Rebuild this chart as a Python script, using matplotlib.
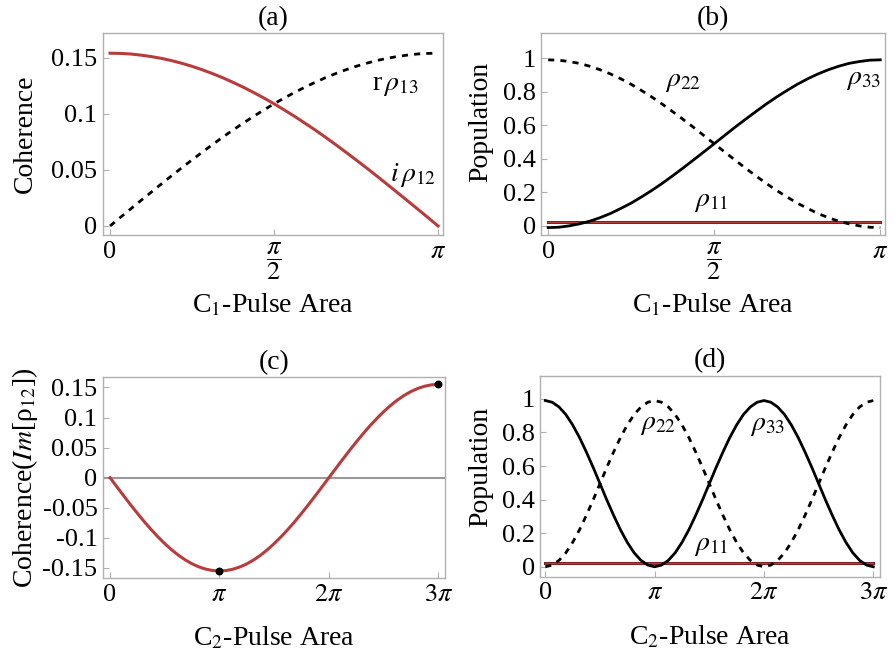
import numpy as np
import matplotlib
matplotlib.use('Agg')
from matplotlib import pyplot as plt

plt.rcParams['font.family'] = 'serif'
plt.rcParams['font.serif'] = ['Liberation Serif', 'Nimbus Roman', 'Times New Roman', 'DejaVu Serif']
plt.rcParams['mathtext.fontset'] = 'stix'

pi = np.pi

# panel (a) / (b): C1 pulse area 0..pi, step pi/32
x_c1 = np.linspace(0, 1, 33) * pi
im_rho12_a = [0.1540, 0.1538, 0.1533, 0.1523, 0.1510, 0.1494, 0.1474, 0.1450,
              0.1423, 0.1392, 0.1358, 0.1321, 0.1280, 0.1237, 0.1190, 0.1141,
              0.1089, 0.1034, 0.0977, 0.0917, 0.0856, 0.0792, 0.0726, 0.0658,
              0.0589, 0.0519, 0.0447, 0.0374, 0.0300, 0.0226, 0.0151, 0.0076, 0.0]
re_rho13_a = [0.0, 0.0076, 0.0151, 0.0226, 0.0300, 0.0374, 0.0447, 0.0519,
              0.0589, 0.0658, 0.0726, 0.0792, 0.0856, 0.0917, 0.0977, 0.1034,
              0.1089, 0.1141, 0.1190, 0.1237, 0.1280, 0.1321, 0.1358, 0.1392,
              0.1423, 0.1450, 0.1474, 0.1494, 0.1510, 0.1523, 0.1533, 0.1538, 0.1540]

rho22_b = [0.990, 0.988, 0.980, 0.969, 0.952, 0.931, 0.906, 0.877, 0.844,
           0.807, 0.768, 0.726, 0.681, 0.635, 0.588, 0.539, 0.490, 0.441,
           0.393, 0.345, 0.299, 0.254, 0.212, 0.173, 0.136, 0.104, 0.074,
           0.049, 0.028, 0.012, 0.000, -0.008, -0.010]
rho33_b = [-0.010, -0.008, 0.000, 0.012, 0.028, 0.049, 0.074, 0.104, 0.136,
           0.173, 0.212, 0.254, 0.299, 0.345, 0.393, 0.441, 0.490, 0.539,
           0.588, 0.635, 0.681, 0.726, 0.768, 0.807, 0.844, 0.877, 0.906,
           0.931, 0.952, 0.969, 0.980, 0.988, 0.990]
rho11_b = [0.022] * 33

# panel (c) / (d): C2 pulse area 0..3pi, step pi/16
x_c2 = np.linspace(0, 3, 49) * pi
im_rho12_c = [0, -0.0152, -0.0302, -0.0450, -0.0593, -0.0731, -0.0861, -0.0983,
              -0.1096, -0.1198, -0.1289, -0.1367, -0.1432, -0.1483, -0.1520,
              -0.1543, -0.1550, -0.1543, -0.1520, -0.1483, -0.1432, -0.1367,
              -0.1289, -0.1198, -0.1096, -0.0983, -0.0861, -0.0731, -0.0593,
              -0.0450, -0.0302, -0.0152, 0, 0.0152, 0.0302, 0.0450, 0.0593,
              0.0731, 0.0861, 0.0983, 0.1096, 0.1198, 0.1289, 0.1367, 0.1432,
              0.1483, 0.1520, 0.1543, 0.1550]
dots_x_c = [pi, 3 * pi]
dots_y_c = [-0.155, 0.155]

rho33_d = [0.990, 0.980, 0.952, 0.907, 0.845, 0.770, 0.684, 0.592, 0.495,
           0.398, 0.306, 0.220, 0.145, 0.083, 0.038, 0.010, 0.000,
           0.010, 0.038, 0.083, 0.145, 0.220, 0.306, 0.398, 0.495, 0.592,
           0.684, 0.770, 0.845, 0.907, 0.952, 0.980, 0.990,
           0.980, 0.952, 0.907, 0.845, 0.770, 0.684, 0.592, 0.495, 0.398,
           0.306, 0.220, 0.145, 0.083, 0.038, 0.010, 0.000]
rho22_d = [0.000, 0.010, 0.038, 0.083, 0.145, 0.220, 0.306, 0.398, 0.495,
           0.592, 0.684, 0.770, 0.845, 0.907, 0.952, 0.980, 0.990,
           0.980, 0.952, 0.907, 0.845, 0.770, 0.684, 0.592, 0.495, 0.398,
           0.306, 0.220, 0.145, 0.083, 0.038, 0.010, 0.000,
           0.010, 0.038, 0.083, 0.145, 0.220, 0.306, 0.398, 0.495, 0.592,
           0.684, 0.770, 0.845, 0.907, 0.952, 0.980, 0.990]
rho11_d = [0.025] * 49

RED = '#b83c3c'
DARKRED = '#6e1c1c'
FRAME = '#b0b0b0'
TICK_FS = 19
LAB_FS = 20

fig = plt.figure(figsize=(8.96, 6.6), dpi=100)
ax_a = fig.add_axes([0.115, 0.644, 0.3795, 0.306])
ax_b = fig.add_axes([0.604, 0.644, 0.384, 0.306])
ax_c = fig.add_axes([0.115, 0.124, 0.382, 0.3045])
ax_d = fig.add_axes([0.603, 0.126, 0.3795, 0.3045])


def style(ax):
    for s in ax.spines.values():
        s.set_color(FRAME)
        s.set_linewidth(1.0)
    ax.tick_params(direction='in', length=4, width=0.8, color=FRAME,
                   labelsize=TICK_FS, pad=4)


# (a)
ax_a.plot(x_c1, re_rho13_a, color='black', lw=2, ls=(0, (2.2, 2.2)))
ax_a.plot(x_c1, im_rho12_a, color=RED, lw=2.2)
ax_a.set_xlim(-0.0213 * pi, 1.0152 * pi)
ax_a.set_ylim(-0.008, 0.172)
ax_a.set_xticks([0, pi / 2, pi], ['0', r'$\dfrac{\pi}{2}$', r'$\pi$'])
ax_a.set_yticks([0, 0.05, 0.1, 0.15], ['0', '0.05', '0.1', '0.15'])
ax_a.text(0.869 * pi, 0.125, r'r$\,\rho_{13}$', fontsize=LAB_FS, ha='center', va='center')
ax_a.text(0.924 * pi, 0.0455, r'$i\,\rho_{12}$', fontsize=LAB_FS, ha='center', va='center')
ax_a.set_title('(a)', fontsize=LAB_FS, pad=6)
ax_a.text(-0.229, 0.5, 'Coherence', transform=ax_a.transAxes, rotation=90,
          fontsize=LAB_FS, ha='center', va='center')
ax_a.text(0.5, -0.347, r'C$_1$-Pulse Area', transform=ax_a.transAxes,
          fontsize=LAB_FS, ha='center', va='center')
style(ax_a)

# (b)
ax_b.plot(x_c1, rho11_b, color=DARKRED, lw=2.2)
ax_b.plot(x_c1, rho11_b, color=RED, lw=1.0)
ax_b.plot(x_c1, rho22_b, color='black', lw=2, ls=(0, (2.2, 2.2)))
ax_b.plot(x_c1, rho33_b, color='black', lw=2)
ax_b.set_xlim(-0.021 * pi, 1.015 * pi)
ax_b.set_ylim(-0.054, 1.15)
ax_b.set_xticks([0, pi / 2, pi], ['0', r'$\dfrac{\pi}{2}$', r'$\pi$'])
ax_b.set_yticks([0, 0.2, 0.4, 0.6, 0.8, 1], ['0', '0.2', '0.4', '0.6', '0.8', '1'])
ax_b.text(0.407 * pi, 0.863, r'$\rho_{22}$', fontsize=LAB_FS, ha='center', va='center')
ax_b.text(0.949 * pi, 0.875, r'$\rho_{33}$', fontsize=LAB_FS, ha='center', va='center')
ax_b.text(0.491 * pi, 0.143, r'$\rho_{11}$', fontsize=LAB_FS, ha='center', va='center')
ax_b.set_title('(b)', fontsize=LAB_FS, pad=6)
ax_b.text(-0.177, 0.56, 'Population', transform=ax_b.transAxes, rotation=90,
          fontsize=LAB_FS, ha='center', va='center')
ax_b.text(0.5, -0.347, r'C$_1$-Pulse Area', transform=ax_b.transAxes,
          fontsize=LAB_FS, ha='center', va='center')
style(ax_b)

# (c)
ax_c.axhline(0, color='#999999', lw=1.5)
ax_c.plot(x_c2, im_rho12_c, color=RED, lw=2.2)
ax_c.scatter(dots_x_c, dots_y_c, color='black', s=22, zorder=5)
ax_c.set_xlim(-0.064 * pi, 3.064 * pi)
ax_c.set_ylim(-0.167, 0.167)
ax_c.set_xticks([0, pi, 2 * pi, 3 * pi], ['0', r'$\pi$', r'$2\pi$', r'$3\pi$'])
ax_c.set_yticks([-0.15, -0.1, -0.05, 0, 0.05, 0.1, 0.15],
                ['-0.15', '-0.1', '-0.05', '0', '0.05', '0.1', '0.15'])
ax_c.set_title('(c)', fontsize=LAB_FS, pad=6)
ax_c.text(-0.228, 0.5, r'Coherence($\mathit{Im}$[ρ$_{12}$])', transform=ax_c.transAxes,
          rotation=90, fontsize=LAB_FS, ha='center', va='center')
ax_c.text(0.5, -0.3, r'C$_2$-Pulse Area', transform=ax_c.transAxes,
          fontsize=LAB_FS, ha='center', va='center')
style(ax_c)

# (d)
ax_d.plot(x_c2, rho11_d, color=DARKRED, lw=2.2)
ax_d.plot(x_c2, rho11_d, color=RED, lw=1.0)
ax_d.plot(x_c2, rho22_d, color='black', lw=2, ls=(0, (2.2, 2.2)))
ax_d.plot(x_c2, rho33_d, color='black', lw=2)
ax_d.set_xlim(-0.046 * pi, 3.064 * pi)
ax_d.set_ylim(-0.06, 1.137)
ax_d.set_xticks([0, pi, 2 * pi, 3 * pi], ['0', r'$\pi$', r'$2\pi$', r'$3\pi$'])
ax_d.set_yticks([0, 0.2, 0.4, 0.6, 0.8, 1], ['0', '0.2', '0.4', '0.6', '0.8', '1'])
ax_d.text(1.034 * pi, 0.845, r'$\rho_{22}$', fontsize=LAB_FS, ha='center', va='center')
ax_d.text(2.03 * pi, 0.84, r'$\rho_{33}$', fontsize=LAB_FS, ha='center', va='center')
ax_d.text(1.52 * pi, 0.125, r'$\rho_{11}$', fontsize=LAB_FS, ha='center', va='center')
ax_d.set_title('(d)', fontsize=LAB_FS, pad=6)
ax_d.text(-0.176, 0.547, 'Population', transform=ax_d.transAxes, rotation=90,
          fontsize=LAB_FS, ha='center', va='center')
ax_d.text(0.5, -0.3, r'C$_2$-Pulse Area', transform=ax_d.transAxes,
          fontsize=LAB_FS, ha='center', va='center')
style(ax_d)

fig.savefig('out.png', dpi=100)
